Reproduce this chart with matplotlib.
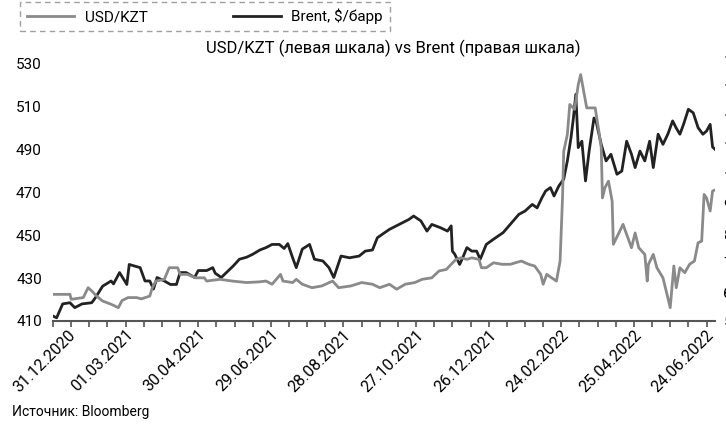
import matplotlib
matplotlib.use('Agg')
import matplotlib.pyplot as plt
import matplotlib.dates as mdates
from matplotlib.transforms import ScaledTranslation
import pandas as pd

plt.rcParams['font.family'] = ['Roboto', 'DejaVu Sans']

START = '2020-12-31'

# Brent, $/барр (правая шкала): день от 31.12.2020 -> цена
brent_days = [0, 3, 8, 14, 18, 24, 32, 35, 41, 48, 50, 55, 61, 63, 67, 72, 76, 80, 83, 86,
              92, 97, 102, 105, 110, 117, 120, 127, 132, 134, 139, 144, 149, 154, 160, 165,
              171, 176, 181, 187, 191, 194, 198, 201, 206, 212, 216, 223, 228, 232, 238, 245,
              253, 258, 264, 268, 270, 278, 286, 294, 298, 304, 309, 313, 320, 326, 329, 330,
              332, 336, 338, 342, 346, 350, 353, 358, 364, 372, 379, 385, 390, 396, 400, 404,
              407, 411, 414, 418, 422, 425, 428, 430, 432, 434, 437, 440, 443, 447, 449, 453,
              457, 461, 466, 470, 474, 478, 481, 485, 489, 493, 496, 500, 504, 508, 512, 515,
              518, 521, 525, 529, 533, 537, 540, 543, 545, 547]
brent = [51.7, 51.1, 55.9, 56.3, 54.6, 55.9, 56.3, 58.0, 62.0, 63.8, 62.8, 66.7, 62.6, 69.5,
         69.0, 68.4, 63.8, 63.8, 61.0, 65.0, 63.8, 62.6, 62.6, 66.7, 66.7, 65.0, 67.4, 67.4,
         68.4, 66.5, 65.0, 67.0, 69.0, 71.3, 72.0, 73.0, 74.5, 75.3, 76.4, 76.4, 75.0, 76.7,
         71.8, 68.4, 74.8, 76.4, 71.3, 70.7, 68.4, 65.0, 72.4, 71.8, 72.4, 74.1, 74.5, 78.7,
         79.3, 81.6, 83.3, 85.0, 86.2, 84.5, 81.0, 83.3, 82.2, 81.0, 82.8, 74.1, 73.0, 69.5,
         71.3, 75.3, 74.1, 74.1, 71.3, 76.4, 78.2, 80.5, 83.9, 86.8, 87.9, 90.2, 89.0, 92.5,
         94.8, 96.0, 93.1, 96.6, 98.9, 105.2, 113.2, 120.0, 128.2, 109.8, 112.0, 98.3, 108.6,
         120.0, 118.4, 110.9, 105.2, 107.5, 100.6, 101.7, 112.0, 107.5, 102.9, 108.6, 105.2,
         112.0, 102.9, 114.4, 110.9, 114.4, 119.0, 116.5, 114.4, 117.8, 123.0, 121.8, 116.7,
         114.4, 115.5, 117.8, 110.0, 109.2]

# USD/KZT (левая шкала)
kzt_days = [0, 7, 14, 15, 20, 25, 29, 32, 36, 41, 48, 54, 57, 62, 69, 73, 80, 82, 85, 92, 96,
            103, 105, 111, 118, 125, 127, 138, 148, 160, 170, 176, 181, 188, 190, 198, 201,
            206, 214, 222, 231, 236, 246, 255, 264, 270, 278, 284, 291, 299, 305, 313, 319,
            325, 329, 333, 337, 342, 346, 352, 354, 358, 364, 371, 378, 382, 387, 393, 398,
            403, 405, 408, 412, 416, 419, 421, 422, 425, 427, 431, 434, 436, 438, 441, 448,
            451, 453, 454, 456, 459, 462, 463, 467, 471, 474, 478, 481, 484, 489, 491, 492,
            496, 499, 504, 508, 510, 513, 515, 518, 522, 526, 530, 533, 536, 538, 540, 543,
            545, 547]
kzt = [422.4, 422.4, 422.4, 420.1, 420.5, 420.9, 425.5, 424.0, 421.6, 419.3, 417.8, 416.2,
       419.5, 420.9, 420.9, 420.3, 421.6, 425.5, 428.6, 429.4, 434.8, 434.8, 431.7, 431.7,
       430.1, 430.1, 428.6, 429.4, 428.6, 427.9, 428.2, 428.6, 427.1, 431.7, 428.6, 427.9,
       429.4, 427.1, 425.5, 426.3, 428.6, 425.5, 426.3, 427.9, 427.1, 425.5, 427.1, 424.8,
       427.1, 427.9, 429.4, 430.1, 433.3, 434.0, 436.4, 438.7, 439.4, 438.7, 439.4, 438.7,
       434.8, 434.8, 437.1, 436.4, 436.4, 437.1, 437.9, 436.4, 435.6, 431.7, 427.1, 431.7,
       430.1, 428.6, 437.9, 467.3, 489.0, 496.8, 510.8, 508.5, 520.0, 524.7, 518.5, 509.2,
       509.2, 498.4, 490.6, 467.3, 472.0, 475.1, 465.8, 445.7, 450.3, 455.0, 450.3, 444.1,
       451.0, 444.1, 441.0, 428.6, 436.4, 441.0, 434.8, 430.1, 420.9, 416.2, 435.6, 425.5,
       434.8, 432.5, 436.4, 437.9, 446.4, 447.2, 468.9, 467.3, 461.2, 470.5, 471.0]

left_ticks = [410, 430, 450, 470, 490, 510, 530]
right_ticks = [50, 60, 70, 80, 90, 100, 110, 120, 130, 140]

start = pd.Timestamp(START)
x_brent = start + pd.to_timedelta(brent_days, unit='D')
x_kzt = start + pd.to_timedelta(kzt_days, unit='D')

GRAY = '#8a8a8a'
BLACK = '#222222'

fig = plt.figure(figsize=(7.26, 4.26), dpi=100)
ax = fig.add_axes([53/726, 105/426, (715-53)/726, (321-60)/426])
ax2 = ax.twinx()

l1, = ax.plot(x_kzt, kzt, color=GRAY, lw=2.0, label='USD/KZT')
l2, = ax2.plot(x_brent, brent, color=BLACK, lw=2.0, label='Brent, $/барр')
ax.set_zorder(2)
ax.patch.set_visible(False)

ax.set_xlim(start, start + pd.Timedelta(days=547))
ax.set_ylim(410, 531.5)
ax2.set_ylim(50, 140)
ax.set_yticks(left_ticks)
ax2.set_yticks(right_ticks)

# подписи каждые 60 дней, мелкие засечки каждые 15
major = [start + pd.Timedelta(days=d) for d in range(0, 541, 60)]
minor = [start + pd.Timedelta(days=d) for d in range(0, 547, 15)]
ax.set_xticks(major)
ax.set_xticks(minor, minor=True)
ax.xaxis.set_major_formatter(mdates.DateFormatter('%d.%m.%Y'))

for a in (ax, ax2):
    for s in a.spines.values():
        s.set_visible(False)
ax.spines['bottom'].set_visible(True)
ax.spines['bottom'].set_color('#555555')
ax.spines['bottom'].set_linewidth(1.5)

ax.tick_params(axis='x', which='both', direction='out', length=4, width=1.2,
               color='#555555', labelsize=11.5, pad=2)
ax.tick_params(axis='y', length=0, labelsize=11, pad=8)
ax2.tick_params(axis='y', length=0, labelsize=11, pad=6)

for i, lab in enumerate(ax.get_xticklabels()):
    lab.set_rotation(45)
    lab.set_ha('right')
    lab.set_va('center')
    lab.set_rotation_mode('anchor')
    dx = 20 if i == 0 else 5
    lab.set_transform(lab.get_transform() + ScaledTranslation(dx/100, -3/100, fig.dpi_scale_trans))

fig.text(393/726, 1 - 48/426, 'USD/KZT (левая шкала) vs Brent (правая шкала)',
         ha='center', va='center', fontsize=12)
fig.text(12/726, 1 - 412/426, 'Источник: Bloomberg', ha='left', va='center', fontsize=10)

leg = fig.legend(handles=[l1, l2], loc='upper left', bbox_to_anchor=(20/726, 1 - 2/426),
                 borderaxespad=0, ncol=2, fontsize=11, handlelength=3.1, handletextpad=0.7,
                 columnspacing=5.6, borderpad=0.45, fancybox=False, frameon=True)
leg.get_frame().set_linestyle((0, (4, 3)))
leg.get_frame().set_edgecolor('#888888')
leg.get_frame().set_linewidth(1.0)

fig.savefig('out.png', dpi=100)
